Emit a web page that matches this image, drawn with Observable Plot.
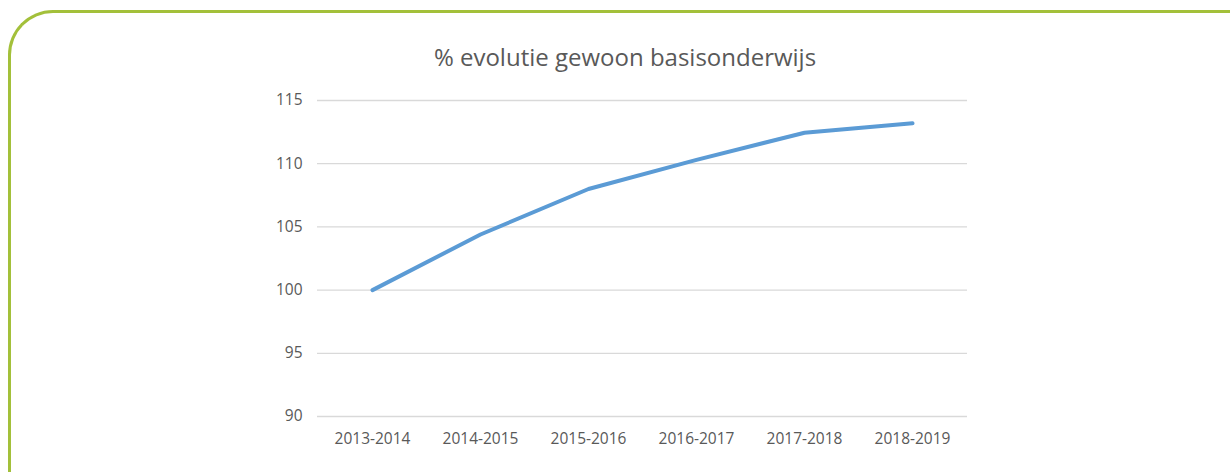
<!DOCTYPE html>
<html>
<head>
<meta charset="utf-8">
<script src="https://cdn.jsdelivr.net/npm/d3@7"></script>
<script src="https://cdn.jsdelivr.net/npm/@observablehq/plot@0.6"></script>
<style>
  html, body { margin: 0; padding: 0; background: #fff; }
  body { width: 1230px; height: 472px; overflow: hidden; position: relative; font-family: "Open Sans", sans-serif; }
  #frame { position: absolute; left: 8px; top: 10px; width: 1400px; height: 700px;
           border-top: 3px solid #A3C03A; border-left: 3px solid #A3C03A; border-top-left-radius: 45px; box-sizing: border-box; }
  #title { position: absolute; left: 0; width: 1250px; top: 40px; text-align: center;
           font-size: 24px; color: #595959; font-family: "Open Sans", sans-serif; }
  #chart { position: absolute; left: 0; top: 0; }
</style>
</head>
<body>
<div id="frame"></div>
<div id="title">% evolutie gewoon basisonderwijs</div>
<div id="chart"></div>
<script>
const categories = ["2013-2014", "2014-2015", "2015-2016", "2016-2017", "2017-2018", "2018-2019"];
const values = [100, 104.4, 108.0, 110.3, 112.45, 113.2];
const yTicks = [90, 95, 100, 105, 110, 115];

const data = categories.map((c, i) => ({cat: c, val: values[i]}));

const plot = Plot.plot({
  width: 1230,
  height: 472,
  marginLeft: 317,
  marginRight: 263,
  marginTop: 100,
  marginBottom: 56,
  style: {background: "transparent", fontFamily: "Open Sans, sans-serif", fontSize: "15.5px", color: "#595959"},
  x: {type: "point", domain: categories, padding: 0.5, label: null},
  y: {domain: [90, 115], ticks: yTicks, label: null},
  marks: [
    Plot.ruleY(yTicks, {stroke: "#d9d9d9", strokeWidth: 1.3}),
    Plot.axisY({ticks: yTicks, tickSize: 0, tickPadding: 15, label: null, fill: "#595959"}),
    Plot.axisX({tickSize: 0, tickPadding: 16, label: null, fill: "#595959"}),
    Plot.line(data, {x: "cat", y: "val", stroke: "#5B9BD5", strokeWidth: 4, strokeLinecap: "round", strokeLinejoin: "round"})
  ]
});
document.getElementById("chart").appendChild(plot);
</script>
</body>
</html>
